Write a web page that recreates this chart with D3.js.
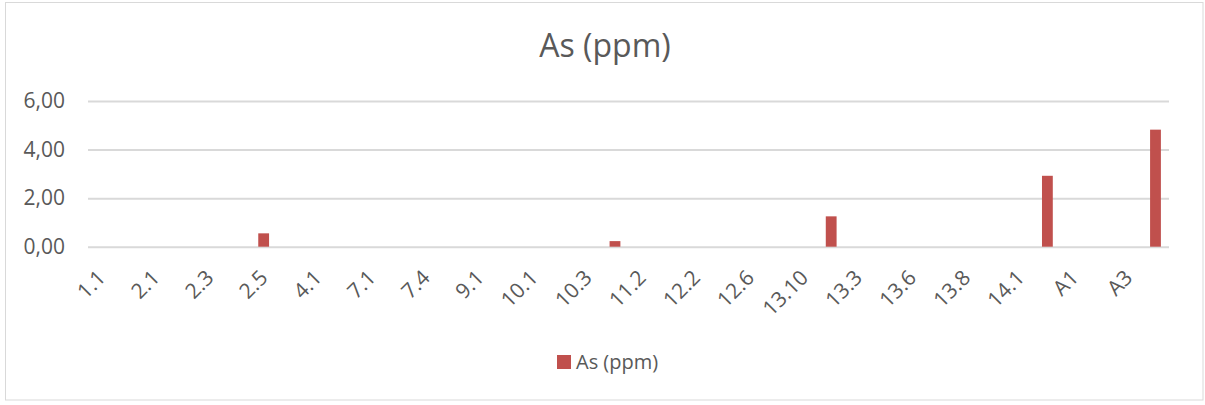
<!DOCTYPE html>
<html>
<head>
<meta charset="utf-8">
<script src="https://cdn.jsdelivr.net/npm/d3@7"></script>
<style>
  body { margin: 0; background: #fff; }
  text { font-family: "Open Sans", "Liberation Sans", sans-serif; fill: #595959; }
</style>
</head>
<body>
<div id="chart"></div>
<script>
// samples (only every other one gets a label on the axis, like Excel does)
const samples = ["1.1", "1.2", "2.1", "2.2", "2.3", "2.4", "2.5", "3.1", "4.1", "5.1",
  "7.1", "7.2", "7.4", "8.1", "9.1", "9.2", "10.1", "10.2", "10.3", "11.1",
  "11.2", "12.1", "12.2", "12.4", "12.6", "13.1", "13.10", "13.2", "13.3", "13.4",
  "13.6", "13.7", "13.8", "13.9", "14.1", "14.2", "A1", "A2", "A3", "A4"];
const asPpm = [0, 0, 0, 0, 0, 0, 0.55, 0, 0, 0,
  0, 0, 0, 0, 0, 0, 0, 0, 0, 0.23,
  0, 0, 0, 0, 0, 0, 0, 1.25, 0, 0,
  0, 0, 0, 0, 0, 2.92, 0, 0, 0, 4.82];
const yTicks = [0, 2, 4, 6];
const seriesName = "As (ppm)";

const W = 1205, H = 405;
const margin = {top: 101, left: 88},
    width = 1169 - margin.left,
    height = 246.7 - margin.top;

const svg = d3.select("#chart")
  .append("svg")
    .attr("width", W)
    .attr("height", H);

// chart border
svg.append("rect")
  .attr("x", 5.5).attr("y", 2.5)
  .attr("width", 1197.5).attr("height", 397.5)
  .attr("fill", "none")
  .attr("stroke", "#d9d9d9");

svg.append("text")
  .attr("x", 605).attr("y", 57)
  .attr("text-anchor", "middle")
  .style("font-size", "32px")
  .text(seriesName);

const g = svg.append("g")
  .attr("transform", "translate(" + margin.left + "," + margin.top + ")");

const x = d3.scaleBand()
  .domain(samples)
  .range([0, width])
  .paddingInner(0.6)
  .paddingOuter(0.3);

const y = d3.scaleLinear()
  .domain([0, 6])
  .range([height, 0]);

// gridlines + y labels
const yAxis = g.append("g")
  .call(d3.axisLeft(y).tickValues(yTicks).tickSize(-width).tickPadding(23)
    .tickFormat(d => d3.format(".2f")(d).replace(".", ",")));
yAxis.select(".domain").remove();
yAxis.selectAll("line").attr("stroke", "#d9d9d9").attr("stroke-width", 2);
yAxis.selectAll("text").style("font-size", "21px").attr("fill", "#595959");

// x labels, every other category
const xAxis = g.append("g")
  .attr("transform", "translate(0," + height + ")")
  .call(d3.axisBottom(x).tickValues(samples.filter((d, i) => i % 2 === 0)).tickSize(0));
xAxis.select(".domain").remove();
xAxis.selectAll("text")
  .style("font-size", "21px")
  .attr("fill", "#595959")
  .attr("text-anchor", "end")
  .attr("dy", "0.35em")
  .attr("transform", "translate(-2,25) rotate(-45)");

g.selectAll(".bar")
  .data(samples)
  .enter().append("rect")
    .attr("class", "bar")
    .attr("x", d => x(d))
    .attr("width", x.bandwidth())
    .attr("y", (d, i) => y(asPpm[i]))
    .attr("height", (d, i) => height - y(asPpm[i]))
    .attr("fill", "#c0504d");

// legend
const legend = svg.append("g").attr("transform", "translate(557,355)");
legend.append("rect").attr("width", 14).attr("height", 14).attr("fill", "#c0504d");
legend.append("text").attr("x", 19).attr("y", 14).style("font-size", "20px").text(seriesName);
</script>
</body>
</html>
